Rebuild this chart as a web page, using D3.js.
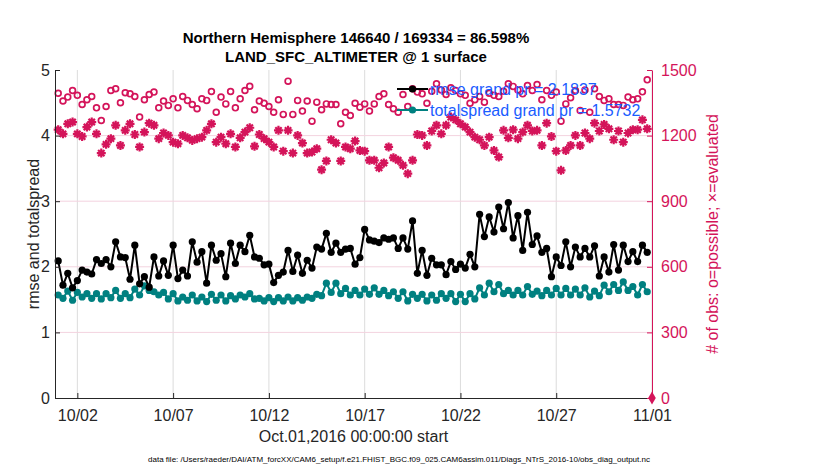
<!DOCTYPE html>
<html>
<head>
<meta charset="utf-8">
<script src="https://cdn.jsdelivr.net/npm/d3@7"></script>
<style>
  body { margin: 0; background: #fff; }
  text { font-family: "Liberation Sans", Arial, Helvetica, sans-serif; }
</style>
</head>
<body>
<div id="chart"></div>
<script>
// 6-hourly bins starting Oct.01,2016 00:00:00
var rmse = [
  2.09, 1.72, 1.90, 1.68, 1.79, 1.95, 1.92, 1.89, 2.11, 2.05,
  2.11, 2.00, 2.38, 2.15, 2.14, 1.81, 2.33, 1.74, 1.85, 1.69,
  2.15, 1.86, 2.09, 1.87, 2.33, 1.82, 1.95, 1.86, 2.38, 2.07,
  2.23, 1.75, 2.33, 2.10, 2.20, 1.85, 2.36, 2.05, 2.33, 2.23,
  2.48, 2.15, 2.13, 2.03, 2.04, 1.76, 1.87, 1.92, 2.25, 1.93,
  2.18, 1.90, 2.10, 1.98, 2.30, 2.27, 2.51, 2.22, 2.36, 2.22,
  2.27, 2.28, 2.04, 2.14, 2.57, 2.41, 2.39, 2.37, 2.44, 2.42,
  2.44, 2.28, 2.44, 2.27, 2.70, 1.90, 2.25, 1.87, 2.13, 2.03,
  2.03, 1.88, 2.08, 1.96, 2.04, 1.98, 2.19, 2.00, 2.80, 2.46,
  2.76, 2.53, 2.91, 2.58, 2.98, 2.44, 2.78, 2.25, 2.83, 2.34,
  2.47, 2.22, 2.28, 1.85, 2.15, 2.02, 2.38, 2.00, 2.30, 2.15,
  2.28, 2.15, 2.32, 1.86, 2.15, 1.92, 2.34, 1.95, 2.33, 2.08,
  2.23, 2.08, 2.33, 2.22
];

var totalspread = [
  1.57, 1.52, 1.63, 1.49, 1.61, 1.54, 1.59, 1.52, 1.59, 1.51,
  1.59, 1.53, 1.64, 1.52, 1.59, 1.53, 1.66, 1.57, 1.71, 1.64,
  1.62, 1.57, 1.61, 1.51, 1.59, 1.48, 1.54, 1.49, 1.57, 1.48,
  1.54, 1.47, 1.58, 1.49, 1.57, 1.48, 1.56, 1.51, 1.57, 1.54,
  1.59, 1.51, 1.52, 1.48, 1.53, 1.47, 1.53, 1.48, 1.54, 1.48,
  1.53, 1.49, 1.54, 1.52, 1.58, 1.56, 1.75, 1.61, 1.75, 1.59,
  1.67, 1.57, 1.64, 1.57, 1.66, 1.58, 1.68, 1.58, 1.64, 1.56,
  1.62, 1.52, 1.62, 1.48, 1.58, 1.52, 1.58, 1.48, 1.57, 1.49,
  1.59, 1.52, 1.59, 1.47, 1.58, 1.47, 1.59, 1.51, 1.68, 1.57,
  1.75, 1.62, 1.73, 1.59, 1.64, 1.57, 1.64, 1.57, 1.70, 1.58,
  1.63, 1.56, 1.64, 1.57, 1.67, 1.57, 1.67, 1.57, 1.66, 1.57,
  1.68, 1.54, 1.63, 1.56, 1.72, 1.62, 1.73, 1.64, 1.77, 1.64,
  1.70, 1.57, 1.73, 1.62
];

var possible = [
  1394, 1358, 1376, 1406, 1384, 1342, 1364, 1379, 1327, 1269,
  1333, 1406, 1414, 1350, 1396, 1391, 1379, 1285, 1364, 1388,
  1399, 1327, 1358, 1338, 1368, 1327, 1379, 1361, 1342, 1323,
  1368, 1361, 1402, 1307, 1376, 1345, 1402, 1327, 1368, 1406,
  1426, 1318, 1358, 1348, 1333, 1307, 1364, 1297, 1449, 1297,
  1361, 1312, 1358, 1266, 1353, 1318, 1345, 1342, 1342, 1254,
  1307, 1292, 1348, 1330, 1345, 1312, 1345, 1379, 1391, 1342,
  1323, 1307, 1388, 1333, 1414, 1399, 1391, 1348, 1403, 1437,
  1409, 1388, 1419, 1406, 1391, 1384, 1348, 1364, 1379, 1353,
  1394, 1384, 1379, 1403, 1437, 1425, 1409, 1391, 1429, 1406,
  1434, 1364, 1406, 1384, 1399, 1266, 1345, 1373, 1406, 1315,
  1409, 1307, 1414, 1379, 1361, 1368, 1342, 1342, 1338, 1376,
  1364, 1368, 1400, 1455
];

var evaluated = [
  1227, 1208, 1254, 1262, 1208, 1196, 1239, 1262, 1208, 1120,
  1160, 1186, 1247, 1155, 1224, 1254, 1205, 1148, 1216, 1257,
  1247, 1186, 1212, 1201, 1170, 1163, 1201, 1190, 1178, 1186,
  1193, 1224, 1254, 1170, 1193, 1163, 1208, 1148, 1190, 1216,
  1236, 1151, 1205, 1186, 1170, 1148, 1224, 1129, 1224, 1120,
  1201, 1166, 1120, 1125, 1140, 1044, 1084, 1181, 1166, 1084,
  1148, 1140, 1175, 1132, 1129, 1087, 1087, 1053, 1075, 1148,
  1099, 1087, 1064, 1026, 1087, 1205, 1201, 1155, 1221, 1247,
  1208, 1247, 1285, 1272, 1254, 1239, 1216, 1193, 1181, 1155,
  1193, 1132, 1102, 1224, 1190, 1227, 1186, 1216, 1247, 1221,
  1224, 1155, 1257, 1196, 1129, 1041, 1132, 1155, 1201, 1155,
  1212, 1186, 1257, 1221, 1251, 1231, 1181, 1221, 1170, 1212,
  1227, 1227, 1272, 1231
];

var xTickLabels = ["10/02", "10/07", "10/12", "10/17", "10/22", "10/27", "11/01"];
var yLeftTicks = [0, 1, 2, 3, 4, 5];
var yRightTicks = [0, 300, 600, 900, 1200, 1500];
var legendLabels = ["rmse grand pr = 2.1837", "totalspread grand pr = 1.5732"];

var svgWidth = 830;
var svgHeight = 470;
var margin = { top: 70, right: 178, bottom: 72, left: 55 };
var width = svgWidth - margin.left - margin.right;
var height = svgHeight - margin.top - margin.bottom;

var red = "#d4145a";
var teal = "#008080";
var legendBlue = "#1a5cff";

var start = Date.UTC(2016, 9, 1);
var binMs = 6 * 3600 * 1000;
var times = rmse.map((d, i) => new Date(start + i * binMs));
var parseTick = d3.utcParse("%Y/%m/%d");
var tickDates = xTickLabels.map(l => parseTick("2016/" + l));

var svg = d3.select("#chart")
  .append("svg")
  .attr("width", svgWidth)
  .attr("height", svgHeight);

var chartGroup = svg.append("g")
  .attr("transform", `translate(${margin.left}, ${margin.top})`);

var xScale = d3.scaleUtc()
  .domain([new Date(start - 4 * 3600 * 1000), tickDates[tickDates.length - 1]])
  .range([0, width]);

var yLeft = d3.scaleLinear().domain([0, 5]).range([height, 0]);
var yRight = d3.scaleLinear().domain([0, 1500]).range([height, 0]);

// grid
chartGroup.append("g")
  .selectAll("line")
  .data(tickDates)
  .enter()
  .append("line")
  .attr("x1", d => xScale(d))
  .attr("x2", d => xScale(d))
  .attr("y1", 0)
  .attr("y2", height)
  .attr("stroke", "#dcdcdc")
  .attr("stroke-width", 1);

chartGroup.append("g")
  .selectAll("line")
  .data(yRightTicks.slice(1, -1))
  .enter()
  .append("line")
  .attr("x1", 0)
  .attr("x2", width)
  .attr("y1", d => yRight(d))
  .attr("y2", d => yRight(d))
  .attr("stroke", "#f3d3df")
  .attr("stroke-width", 1);

// right axis series
var star = {
  draw: function(ctx, size) {
    var r = Math.sqrt(size) / 2;
    var q = r * 0.7071;
    ctx.moveTo(-r, 0); ctx.lineTo(r, 0);
    ctx.moveTo(0, -r); ctx.lineTo(0, r);
    ctx.moveTo(-q, -q); ctx.lineTo(q, q);
    ctx.moveTo(-q, q); ctx.lineTo(q, -q);
  }
};

chartGroup.append("g")
  .selectAll("path")
  .data(evaluated)
  .enter()
  .append("path")
  .attr("transform", (d, i) => `translate(${xScale(times[i])}, ${yRight(d)})`)
  .attr("d", d3.symbol().type(star).size(81))
  .attr("fill", "none")
  .attr("stroke", red)
  .attr("stroke-width", 2.2);

chartGroup.append("g")
  .selectAll("circle")
  .data(possible)
  .enter()
  .append("circle")
  .attr("cx", (d, i) => xScale(times[i]))
  .attr("cy", d => yRight(d))
  .attr("r", 2.9)
  .attr("fill", "none")
  .attr("stroke", red)
  .attr("stroke-width", 1.7);

// left axis series
function drawSeries(values, color) {
  var line = d3.line()
    .x((d, i) => xScale(times[i]))
    .y(d => yLeft(d));
  chartGroup.append("path")
    .datum(values)
    .attr("d", line)
    .attr("fill", "none")
    .attr("stroke", color)
    .attr("stroke-width", 2);
  chartGroup.append("g")
    .selectAll("circle")
    .data(values)
    .enter()
    .append("circle")
    .attr("cx", (d, i) => xScale(times[i]))
    .attr("cy", d => yLeft(d))
    .attr("r", 3.6)
    .attr("fill", color);
}
drawSeries(totalspread, teal);
drawSeries(rmse, "black");

// axes
var bottomAxis = d3.axisBottom(xScale)
  .tickValues(tickDates)
  .tickFormat((d, i) => xTickLabels[i])
  .tickSizeInner(-5)
  .tickSizeOuter(0)
  .tickPadding(12);

var xAxis = chartGroup.append("g")
  .attr("transform", `translate(0, ${height})`)
  .call(bottomAxis);
xAxis.selectAll("text").attr("font-size", "16px").attr("fill", "#262626");
xAxis.selectAll("line, path").attr("stroke", "#262626");

var leftAxis = d3.axisLeft(yLeft)
  .tickValues(yLeftTicks)
  .tickFormat(d3.format("d"))
  .tickSizeInner(-5)
  .tickSizeOuter(0)
  .tickPadding(5);

var yAxisL = chartGroup.append("g").call(leftAxis);
yAxisL.selectAll("text").attr("font-size", "16px").attr("fill", "#262626");
yAxisL.selectAll("line, path").attr("stroke", "#262626");

var rightAxis = d3.axisRight(yRight)
  .tickValues(yRightTicks)
  .tickFormat(d3.format("d"))
  .tickSizeInner(-5)
  .tickSizeOuter(0)
  .tickPadding(9);

var yAxisR = chartGroup.append("g")
  .attr("transform", `translate(${width}, 0)`)
  .call(rightAxis);
yAxisR.selectAll("text").attr("font-size", "16px").attr("fill", red);
yAxisR.selectAll("line, path").attr("stroke", red);

svg.selectAll(".tick text").style("font-family", '"Liberation Sans", Arial, sans-serif');
svg.selectAll(".domain").attr("stroke-width", 1);

// red diamond marker at the right axis origin
chartGroup.append("path")
  .attr("transform", `translate(${width}, ${yRight(0)})`)
  .attr("d", d3.symbol().type(d3.symbolDiamond).size(50))
  .attr("fill", red);

// legend
var legendColors = ["black", teal];
var legend = svg.append("g")
  .selectAll("g")
  .data(legendLabels)
  .enter()
  .append("g")
  .attr("transform", (d, i) => `translate(397, ${89 + i * 21})`);

legend.append("line")
  .attr("x1", 0)
  .attr("x2", 31)
  .attr("stroke", (d, i) => legendColors[i])
  .attr("stroke-width", 2);
legend.append("circle")
  .attr("cx", 15.5)
  .attr("r", 3.6)
  .attr("fill", (d, i) => legendColors[i]);
legend.append("text")
  .attr("x", 33)
  .attr("y", 5.5)
  .attr("font-size", "16px")
  .attr("fill", legendBlue)
  .text(d => d);

// titles and labels
svg.append("text")
  .attr("x", 356)
  .attr("y", 43)
  .attr("text-anchor", "middle")
  .attr("font-size", "15px")
  .attr("font-weight", "bold")
  .attr("fill", "black")
  .text("Northern Hemisphere 146640 / 169334 = 86.598%");

svg.append("text")
  .attr("x", 356)
  .attr("y", 62)
  .attr("text-anchor", "middle")
  .attr("font-size", "15px")
  .attr("font-weight", "bold")
  .attr("fill", "black")
  .text("LAND_SFC_ALTIMETER @ 1 surface");

svg.append("text")
  .attr("transform", `translate(39, ${margin.top + height / 2}) rotate(-90)`)
  .attr("text-anchor", "middle")
  .attr("font-size", "16px")
  .attr("fill", "#262626")
  .text("rmse and totalspread");

svg.append("text")
  .attr("transform", `translate(718, ${margin.top + height / 2}) rotate(-90)`)
  .attr("text-anchor", "middle")
  .attr("font-size", "16px")
  .attr("fill", red)
  .text("# of obs: o=possible; \u00d7=evaluated");

svg.append("text")
  .attr("x", margin.left + width / 2)
  .attr("y", 442)
  .attr("text-anchor", "middle")
  .attr("font-size", "16px")
  .attr("fill", "#262626")
  .text("Oct.01,2016 00:00:00 start");

svg.append("text")
  .attr("x", 399)
  .attr("y", 462)
  .attr("text-anchor", "middle")
  .attr("font-size", "8px")
  .attr("fill", "black")
  .text("data file: /Users/raeder/DAI/ATM_forcXX/CAM6_setup/f.e21.FHIST_BGC.f09_025.CAM6assim.011/Diags_NTrS_2016-10/obs_diag_output.nc");
</script>
</body>
</html>
